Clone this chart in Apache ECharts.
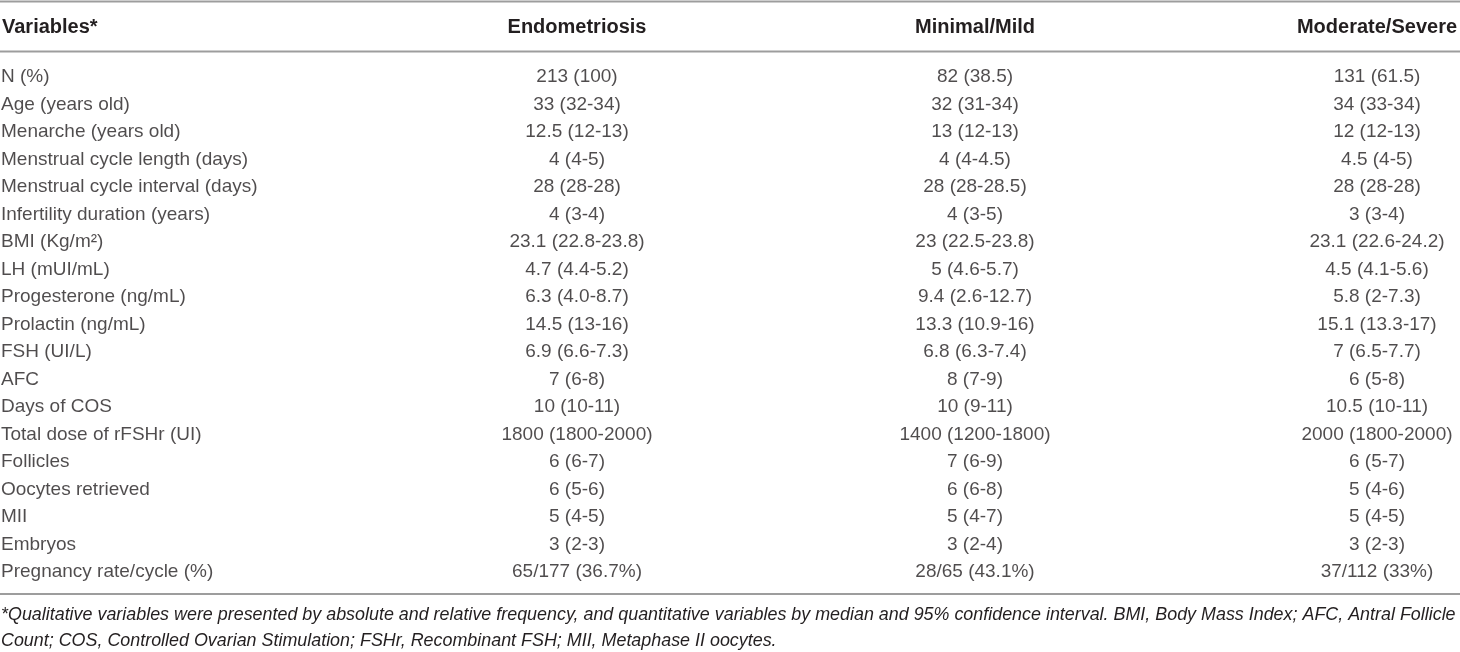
<!DOCTYPE html>
<html>
<head>
<meta charset="utf-8">
<script src="https://cdn.jsdelivr.net/npm/echarts@6/dist/echarts.min.js"></script>
<style>
  html, body { margin: 0; padding: 0; background: #fff; }
  #main { width: 1460px; height: 652px; }
</style>
</head>
<body>
<div id="main"></div>
<script>
// 表头
var headers = ['Variables*', 'Endometriosis', 'Minimal/Mild', 'Moderate/Severe'];
// 行名
var variables = [
    'N (%)', 'Age (years old)', 'Menarche (years old)', 'Menstrual cycle length (days)',
    'Menstrual cycle interval (days)', 'Infertility duration (years)', 'BMI (Kg/m\u00b2)',
    'LH (mUI/mL)', 'Progesterone (ng/mL)', 'Prolactin (ng/mL)', 'FSH (UI/L)', 'AFC',
    'Days of COS', 'Total dose of rFSHr (UI)', 'Follicles', 'Oocytes retrieved', 'MII',
    'Embryos', 'Pregnancy rate/cycle (%)'
];
var endometriosis = [
    '213 (100)', '33 (32-34)', '12.5 (12-13)', '4 (4-5)', '28 (28-28)', '4 (3-4)',
    '23.1 (22.8-23.8)', '4.7 (4.4-5.2)', '6.3 (4.0-8.7)', '14.5 (13-16)', '6.9 (6.6-7.3)',
    '7 (6-8)', '10 (10-11)', '1800 (1800-2000)', '6 (6-7)', '6 (5-6)', '5 (4-5)', '3 (2-3)',
    '65/177 (36.7%)'
];
var minimalMild = [
    '82 (38.5)', '32 (31-34)', '13 (12-13)', '4 (4-4.5)', '28 (28-28.5)', '4 (3-5)',
    '23 (22.5-23.8)', '5 (4.6-5.7)', '9.4 (2.6-12.7)', '13.3 (10.9-16)', '6.8 (6.3-7.4)',
    '8 (7-9)', '10 (9-11)', '1400 (1200-1800)', '7 (6-9)', '6 (6-8)', '5 (4-7)', '3 (2-4)',
    '28/65 (43.1%)'
];
var moderateSevere = [
    '131 (61.5)', '34 (33-34)', '12 (12-13)', '4.5 (4-5)', '28 (28-28)', '3 (3-4)',
    '23.1 (22.6-24.2)', '4.5 (4.1-5.6)', '5.8 (2-7.3)', '15.1 (13.3-17)', '7 (6.5-7.7)',
    '6 (5-8)', '10.5 (10-11)', '2000 (1800-2000)', '6 (5-7)', '5 (4-6)', '5 (4-5)', '3 (2-3)',
    '37/112 (33%)'
];
var footnotes = [
    '*Qualitative variables were presented by absolute and relative frequency, and quantitative variables by median and 95% confidence interval. BMI, Body Mass Index; AFC, Antral Follicle',
    'Count; COS, Controlled Ovarian Stimulation; FSHr, Recombinant FSH; MII, Metaphase II oocytes.'
];

(function(){
    var W = 1460;
    var FONT = '"Liberation Sans", Arial, Helvetica, sans-serif';
    var TXT = '#231f20';
    var RULE = '#9d9d9d';
    // 列的位置（左对齐列 + 三个居中列）
    var colX = [1, 577, 975, 1377];

    var myChart = echarts.init(document.getElementById('main'), null, { renderer: 'canvas' });

    function cellSeries(name, x, values, leftAlign){
        return {
            name: name,
            type: 'scatter',
            symbolSize: 0,
            itemStyle: { color: 'rgba(0,0,0,0)' },
            silent: true,
            data: values.map(function(v, i){ return { value: [x, variables[i]], text: v }; }),
            label: {
                show: true,
                position: leftAlign ? 'right' : 'inside',
                distance: 0,
                align: leftAlign ? 'left' : 'center',
                verticalAlign: 'middle',
                fontFamily: FONT,
                fontSize: 19,
                color: TXT,
                formatter: function(p){ return p.data.text; }
            }
        };
    }

    var graphics = [];
    // 横线
    [1.5, 51.5, 594].forEach(function(y){
        graphics.push({
            type: 'line', silent: true,
            shape: { x1: 0, y1: y, x2: W, y2: y },
            style: { stroke: RULE, lineWidth: 2 }
        });
    });
    // 表头
    headers.forEach(function(h, i){
        graphics.push({
            type: 'text', silent: true,
            x: colX[i] + (i === 0 ? 1 : 0), y: 27.5,
            style: {
                text: h, fill: TXT,
                font: 'bold 20px ' + FONT,
                align: i === 0 ? 'left' : 'center',
                verticalAlign: 'middle'
            }
        });
    });
    // 注释
    footnotes.forEach(function(t, i){
        graphics.push({
            type: 'text', silent: true,
            x: 1, y: 615 + i * 26,
            style: {
                text: t, fill: TXT,
                font: 'italic 17.9px ' + FONT,
                align: 'left',
                verticalAlign: 'middle'
            }
        });
    });

    var option = {
        animation: false,
        backgroundColor: '#fff',
        grid: { left: 0, right: 0, top: 63.25, bottom: 66.25 },
        xAxis: { type: 'value', min: 0, max: W, show: false },
        yAxis: { type: 'category', data: variables, inverse: true, show: false },
        series: [
            cellSeries('Variables', colX[0], variables, true),
            cellSeries('Endometriosis', colX[1], endometriosis, false),
            cellSeries('Minimal/Mild', colX[2], minimalMild, false),
            cellSeries('Moderate/Severe', colX[3], moderateSevere, false)
        ],
        graphic: graphics
    };
    myChart.setOption(option);
})();
</script>
</body>
</html>
